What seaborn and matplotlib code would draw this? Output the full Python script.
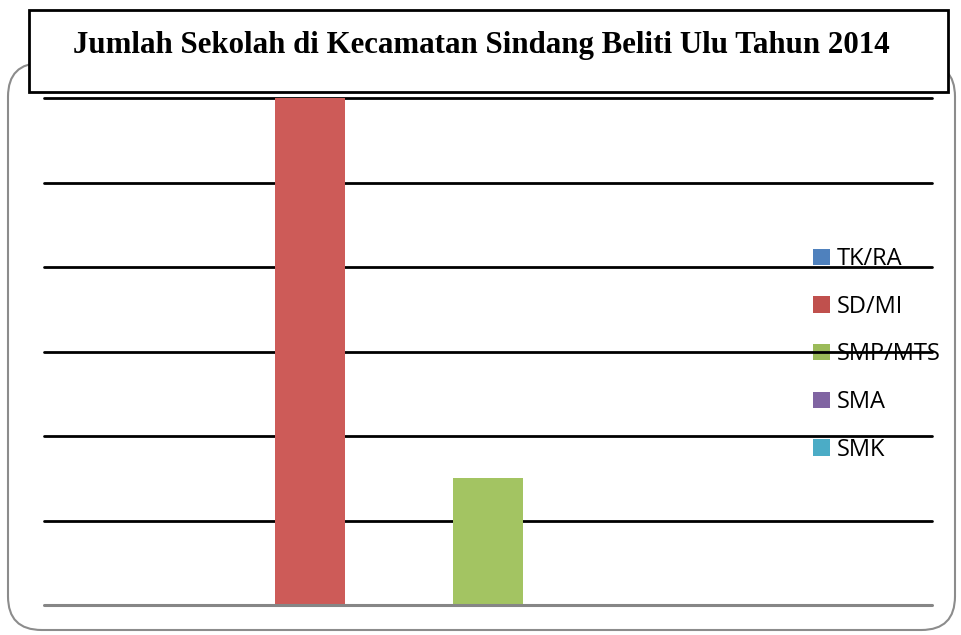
import matplotlib
matplotlib.use("Agg")
import matplotlib.pyplot as plt
import seaborn as sns
import pandas as pd
from matplotlib.patches import FancyBboxPatch, Rectangle, Patch

# Data
categories = ["TK/RA", "SD/MI", "SMP/MTS", "SMA", "SMK"]
jumlah = [0, 12, 3, 0, 0]
colors = ["#4F81BD", "#CD5B58", "#A3C462", "#8064A2", "#4BACC6"]
legend_colors = ["#4F81BD", "#C0504D", "#9BBB59", "#8064A2", "#4BACC6"]
title = "Jumlah Sekolah di Kecamatan Sindang Beliti Ulu Tahun 2014"

df = pd.DataFrame({"Jenjang": categories, "Jumlah": jumlah})

sns.set_style("white")
W, H = 962, 635
fig = plt.figure(figsize=(W / 100, H / 100), dpi=100)

# rounded outer frame
frame = FancyBboxPatch((8 / W, 5 / H), 947 / W, 567 / H,
                       boxstyle="round,pad=0,rounding_size=0.035",
                       transform=fig.transFigure, facecolor="white",
                       edgecolor="#8C8C8C", linewidth=1.5, zorder=-3,
                       mutation_aspect=W / H)
fig.patches.append(frame)

ax = fig.add_axes([44 / W, (H - 605) / H, 888 / W, 507 / H])
ax.set_facecolor("none")
sns.barplot(data=df, x="Jenjang", y="Jumlah", hue="Jenjang",
            palette=colors, width=0.394, legend=False, ax=ax,
            saturation=1, zorder=3, edgecolor="none", linewidth=0)
ax.set_ylim(0, 12)
ax.set_xlim(-0.5, 4.5)
for y in range(2, 13, 2):
    ax.axhline(y, color="black", lw=2, zorder=1, clip_on=False)
ax.axhline(0, color="#868686", lw=2.2, zorder=4, clip_on=False)
ax.set_xticks([])
ax.set_yticks([])
ax.set_xlabel("")
ax.set_ylabel("")
for s in ax.spines.values():
    s.set_visible(False)

# legend sits under the gridlines, as in the original
handles = [Patch(facecolor=c, edgecolor="none") for c in legend_colors]
leg = fig.legend(handles, categories, loc="upper left",
                 bbox_to_anchor=(792 / W, 1 - 226 / H),
                 frameon=False, handlelength=0.7,
                 handleheight=0.7, handletextpad=0.3, labelspacing=1.0,
                 labelcolor="black",
                 prop={"family": "Open Sans", "size": 17})
leg.set_zorder(-1)

# title box
tbox = Rectangle((29 / W, (H - 92) / H), 919 / W, 82 / H,
                 transform=fig.transFigure, facecolor="white",
                 edgecolor="black", linewidth=2, zorder=5)
fig.patches.append(tbox)
fig.text(0.5, 1 - 46 / H, title, ha="center", va="center", color="black",
         fontsize=22.2, fontweight="bold", family="Liberation Serif", zorder=6)

fig.savefig("out.png", dpi=100)
